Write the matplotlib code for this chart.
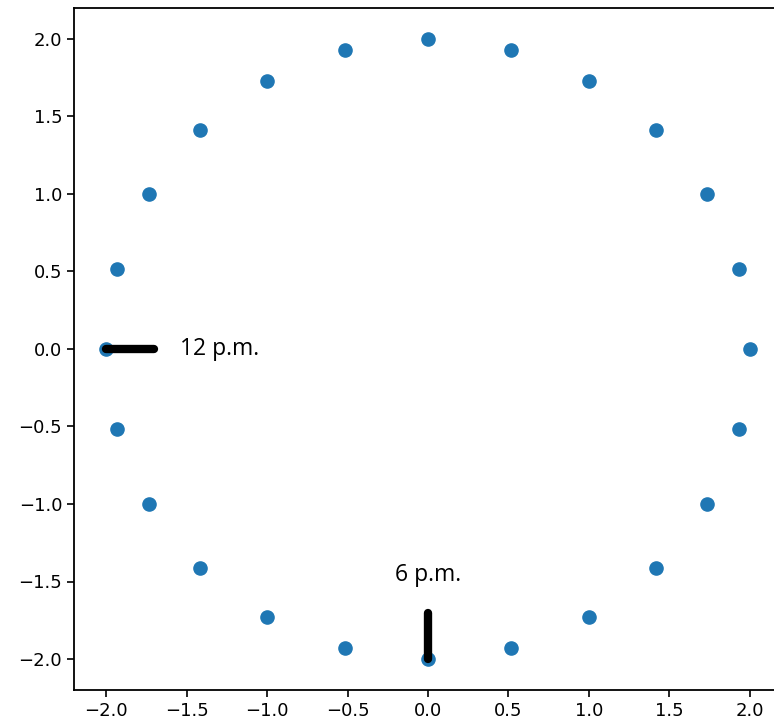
import matplotlib.pyplot as plt
import numpy as np

# 24 hours around a circle of radius 2
hours = np.arange(24)
angles_deg = hours * 15.0
radius = 2.0

# clock hands and their labels
hand_12_x = [-2.0, -1.7]
hand_12_y = [0.0, 0.0]
hand_6_x = [0.0, 0.0]
hand_6_y = [-2.0, -1.7]
labels = ["12 p.m.", "6 p.m."]

x = radius * np.cos(np.radians(angles_deg))
y = radius * np.sin(np.radians(angles_deg))

fig = plt.figure(figsize=(7.74, 7.26), dpi=100)
ax = fig.add_axes([74 / 774, 36 / 726, 708 / 774, 682 / 726])

ax.scatter(x, y, s=90, color="#1f77b4", zorder=2)
ax.plot(hand_12_x, hand_12_y, color="black", lw=6, solid_capstyle="round", zorder=3)
ax.plot(hand_6_x, hand_6_y, color="black", lw=6, solid_capstyle="round", zorder=3)

ax.text(-1.54, 0.0, labels[0], ha="left", va="center", fontsize=16.5, family="Open Sans")
ax.text(0.0, -1.46, labels[1], ha="center", va="center", fontsize=16.5, family="Open Sans")

ax.set_xlim(-2.2, 2.2)
ax.set_ylim(-2.2, 2.2)
ticks = [-2.0, -1.5, -1.0, -0.5, 0.0, 0.5, 1.0, 1.5, 2.0]
ax.set_xticks(ticks)
ax.set_yticks(ticks)
ax.tick_params(labelsize=13, length=5, width=1.2)
for sp in ax.spines.values():
    sp.set_linewidth(1.3)

fig.savefig("out.png", dpi=100)
